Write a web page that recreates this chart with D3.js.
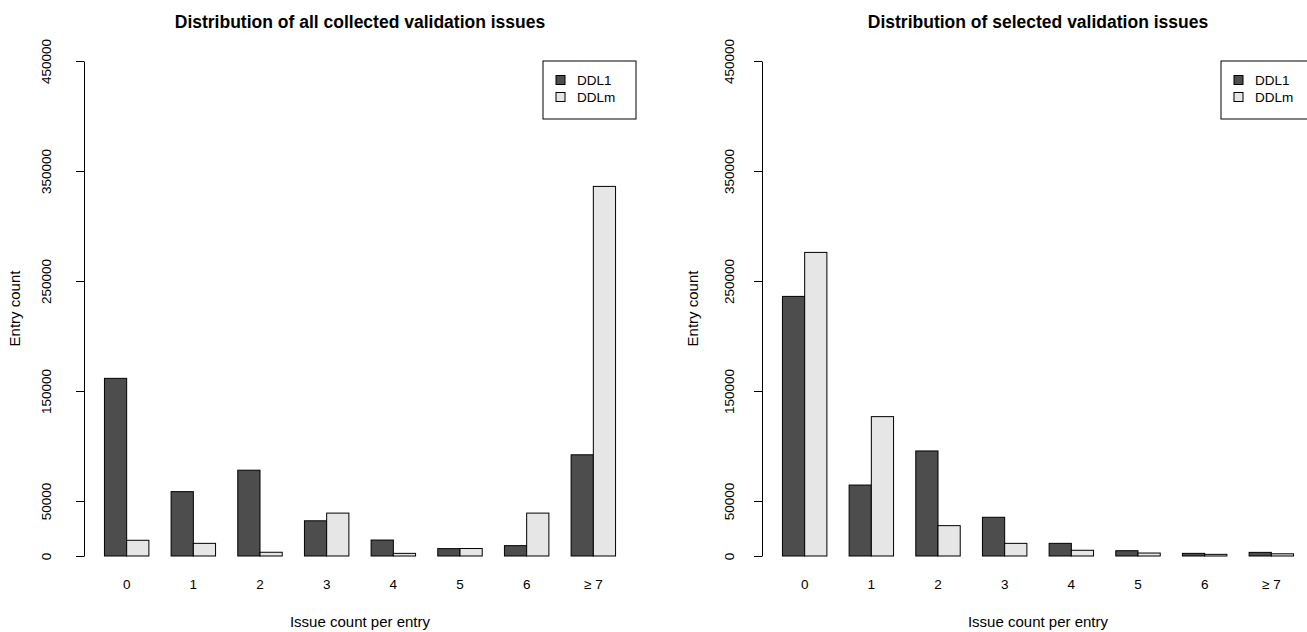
<!DOCTYPE html>
<html>
<head>
<meta charset="utf-8">
<script src="https://cdn.jsdelivr.net/npm/d3@7"></script>
<style>
  html, body { margin: 0; padding: 0; background: #fff; }
  svg { display: block; font-family: "Liberation Sans", Arial, Helvetica, sans-serif; }
</style>
</head>
<body>
<div id="chart"></div>
<script>
// issue count buckets
const categories = ["0", "1", "2", "3", "4", "5", "6", "\u2265 7"];
const seriesNames = ["DDL1", "DDLm"];

// all collected validation issues
const allDDL1 = [161500, 58500, 78000, 32000, 14500, 6700, 9400, 92000];
const allDDLm = [14300, 11500, 3400, 39000, 2400, 6800, 39000, 336000];

// selected validation issues
const selDDL1 = [236000, 64500, 95500, 35200, 11500, 4800, 2400, 3300];
const selDDLm = [276000, 126700, 27600, 11500, 5200, 2700, 1500, 2000];

const yTicks = [0, 50000, 150000, 250000, 350000, 450000];
const yMax = 450000;

const panels = [
  {title: "Distribution of all collected validation issues", ddl1: allDDL1, ddlm: allDDLm, left: 84, labelOff: 33},
  {title: "Distribution of selected validation issues", ddl1: selDDL1, ddlm: selDDLm, left: 762, labelOff: 28}
];

const width = 1307, height = 632;
const plotW = 552, plotTop = 61, plotBottom = 556;
const axisFont = 13.5, labFont = 15, titleFont = 17.5;
const colors = d3.scaleOrdinal().domain(seriesNames).range(["#4d4d4d", "#e6e6e6"]);

const svg = d3.select("#chart").append("svg")
  .attr("width", width)
  .attr("height", height);

panels.forEach(function(p) {
  const g = svg.append("g");
  const x0 = p.left, x1 = p.left + plotW;

  // R barplot: groups of 2 bars, one bar-width gap between groups
  const x = d3.scaleBand()
    .domain(categories)
    .range([x0, x1])
    .paddingInner(1 / 3)
    .paddingOuter(0.3067);
  const xs = d3.scaleBand()
    .domain(seriesNames)
    .range([0, x.bandwidth()]);
  const y = d3.scaleLinear()
    .domain([0, yMax])
    .range([plotBottom, plotTop]);

  const rows = categories.map(function(c, i) {
    return {cat: c, values: [{s: "DDL1", v: p.ddl1[i]}, {s: "DDLm", v: p.ddlm[i]}]};
  });

  const grp = g.append("g").selectAll("g")
    .data(rows)
    .join("g")
    .attr("transform", function(d) { return "translate(" + x(d.cat) + ",0)"; });

  grp.selectAll("rect")
    .data(function(d) { return d.values; })
    .join("rect")
    .attr("x", function(d) { return xs(d.s); })
    .attr("y", function(d) { return y(d.v); })
    .attr("width", xs.bandwidth())
    .attr("height", function(d) { return y(0) - y(d.v); })
    .attr("fill", function(d) { return colors(d.s); })
    .attr("stroke", "#000")
    .attr("stroke-width", 1);

  // category labels under each group
  g.append("g").selectAll("text")
    .data(categories)
    .join("text")
    .attr("x", function(d) { return x(d) + x.bandwidth() / 2; })
    .attr("y", 589)
    .attr("text-anchor", "middle")
    .attr("font-size", axisFont)
    .text(function(d) { return d; });

  // y axis, labels parallel to the axis like R
  const yAxis = g.append("g")
    .attr("transform", "translate(" + x0 + ",0)")
    .call(d3.axisLeft(y).tickValues(yTicks).tickSize(8).tickSizeOuter(0).tickFormat(d3.format("d")));
  yAxis.select(".domain").attr("stroke", "#000");
  yAxis.selectAll(".tick line").attr("stroke", "#000");
  yAxis.selectAll(".tick text")
    .attr("x", 0)
    .attr("dy", null)
    .attr("y", -p.labelOff)
    .attr("transform", "rotate(-90)")
    .attr("text-anchor", "middle")
    .attr("font-family", null)
    .attr("font-size", axisFont)
    .attr("fill", "#000");

  // titles
  g.append("text")
    .attr("x", (x0 + x1) / 2)
    .attr("y", 28)
    .attr("text-anchor", "middle")
    .attr("font-size", titleFont)
    .attr("font-weight", "bold")
    .text(p.title);

  g.append("text")
    .attr("x", (x0 + x1) / 2)
    .attr("y", 627)
    .attr("text-anchor", "middle")
    .attr("font-size", labFont)
    .text("Issue count per entry");

  g.append("text")
    .attr("transform", "translate(" + (x0 - 64) + "," + ((plotTop + plotBottom) / 2) + ") rotate(-90)")
    .attr("text-anchor", "middle")
    .attr("font-size", labFont)
    .text("Entry count");

  // legend, top right of the plot region
  const lw = 93, lh = 58;
  const leg = g.append("g").attr("transform", "translate(" + (x1 - lw) + "," + plotTop + ")");
  leg.append("rect")
    .attr("width", lw).attr("height", lh)
    .attr("fill", "#fff").attr("stroke", "#000");
  const item = leg.selectAll("g.item")
    .data(seriesNames)
    .join("g")
    .attr("class", "item")
    .attr("transform", function(d, i) { return "translate(0," + (19 + i * 17) + ")"; });
  item.append("rect")
    .attr("x", 13).attr("y", -4.5)
    .attr("width", 9).attr("height", 9)
    .attr("fill", function(d) { return colors(d); })
    .attr("stroke", "#000");
  item.append("text")
    .attr("x", 34).attr("y", 5)
    .attr("font-size", axisFont)
    .text(function(d) { return d; });
});
</script>
</body>
</html>
